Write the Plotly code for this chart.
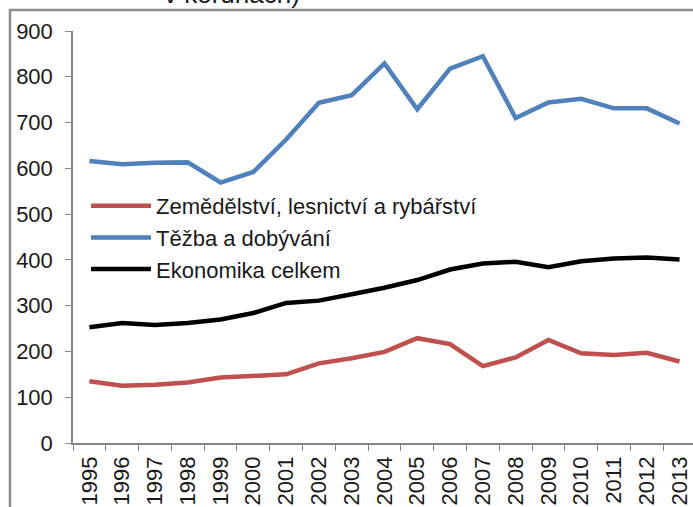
import plotly.graph_objects as go

years = [str(y) for y in range(1995, 2014)]
zemedelstvi = [135, 125, 127, 132, 143, 146, 150, 174, 185, 199, 229, 216, 168, 187, 225, 196, 192, 197, 178]
tezba = [616, 609, 612, 613, 569, 592, 663, 743, 760, 829, 729, 818, 845, 710, 744, 752, 731, 731, 698]
ekonomika = [253, 262, 258, 262, 270, 284, 306, 311, 325, 339, 356, 379, 392, 396, 384, 397, 403, 405, 401]
names = ["Zemědělství, lesnictví a rybářství", "Těžba a dobývání", "Ekonomika celkem"]
colors = ["#C0504D", "#4F81BD", "#000000"]
y_ticks = [0, 100, 200, 300, 400, 500, 600, 700, 800, 900]

FONT = "Liberation Sans, Arial, sans-serif"

fig = go.Figure()
for name, vals, col in zip(names, [zemedelstvi, tezba, ekonomika], colors):
    fig.add_trace(go.Scatter(x=years, y=vals, mode="lines", name=name,
                             line=dict(color=col, width=4.5)))

W, H = 693, 507
ml, mr, mt, mb = 73, 0, 31, 64
pw = W - ml - mr
ph = H - mt - mb

def px_x(x):
    return (x - ml) / pw

def px_y(y):
    return 1 - (y - mt) / ph

fig.update_layout(
    width=W, height=H,
    margin=dict(l=ml, r=mr, t=mt, b=mb),
    paper_bgcolor="white", plot_bgcolor="white",
    font=dict(family=FONT, size=22, color="#1a1a1a"),
    showlegend=True,
    legend=dict(x=px_x(86), y=px_y(185), xanchor="left", yanchor="top",
                bgcolor="rgba(0,0,0,0)", font=dict(size=22, color="#1a1a1a"),
                itemwidth=60, tracegroupgap=0),
    xaxis=dict(type="category", range=[-0.5, 18.41], showline=True, linecolor="#868686",
               linewidth=1.5, ticks="outside", ticklen=6, tickcolor="#868686",
               tickson="boundaries", tickangle=-90, showgrid=False, zeroline=False,
               ticklabelstandoff=3, tickfont=dict(size=22, color="#1a1a1a")),
    yaxis=dict(range=[0, 900], tickvals=y_ticks, showline=True, linecolor="#868686",
               linewidth=1.5, ticks="outside", ticklen=6, tickcolor="#868686",
               showgrid=False, zeroline=False, ticklabelstandoff=8,
               tickfont=dict(size=22, color="#1a1a1a")),
    shapes=[dict(type="rect", xref="paper", yref="paper",
                 x0=px_x(10), x1=1.2, y0=-0.3, y1=px_y(10),
                 line=dict(color="#8c8c8c", width=2.5), fillcolor="rgba(0,0,0,0)", layer="below")],
    annotations=[dict(text="v korunách)", xref="paper", yref="paper",
                      x=px_x(232), y=px_y(11.5), xanchor="center", yanchor="bottom",
                      showarrow=False, font=dict(size=26, color="#1a1a1a"))],
)

fig.write_html("out.html", config={"displayModeBar": False},
               post_script="document.body.style.margin='0';document.body.style.overflow='hidden';")
